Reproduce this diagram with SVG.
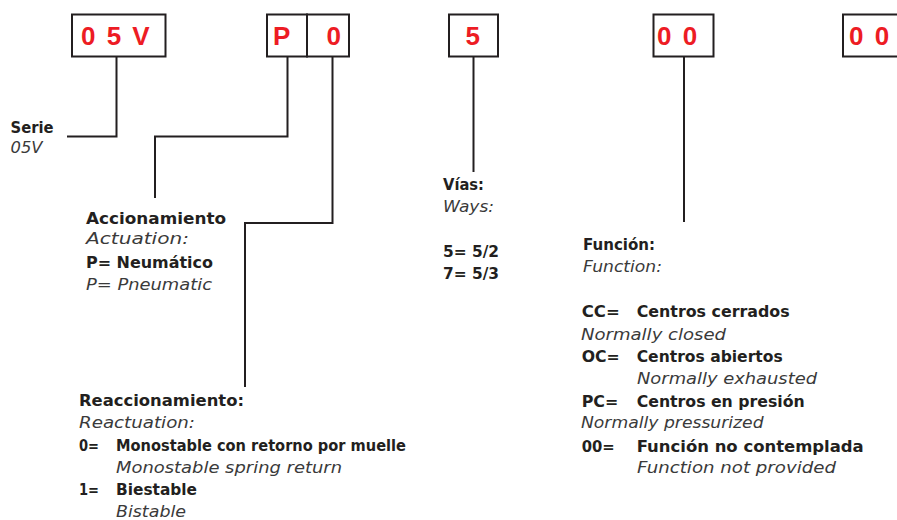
<svg xmlns="http://www.w3.org/2000/svg" width="897" height="520" viewBox="0 0 897 520">
<style>
.box{fill:#fff;stroke:#231f20;stroke-width:2}
.code{font-family:"Liberation Sans",Arial,sans-serif;font-weight:bold;font-size:26px;fill:#ed1c24;letter-spacing:2px}
.b{font-family:"DejaVu Sans","Liberation Sans",sans-serif;font-weight:bold;font-size:16px;fill:#231f20}
.i{font-family:"DejaVu Sans","Liberation Sans",sans-serif;font-style:italic;font-size:16px;fill:#3a3a3a}
.con{fill:none;stroke:#231f20;stroke-width:2}
</style>
<rect width="897" height="520" fill="#fff"/>
<g id="connectors">
<path class="con" d="M116.5 57 V136.5 H67"/>
<path class="con" d="M287.5 57 V136.5 H155 V198"/>
<path class="con" d="M332.5 57 V223 H245 V387"/>
<path class="con" d="M473.5 57 V172"/>
<path class="con" d="M684 57 V222"/>
</g>
<g id="box-serie">
<rect class="box" x="72" y="14.5" width="93.5" height="42"/>
<text class="code" x="81" y="45">0 5 V</text>
</g>
<g id="box-actuation">
<rect class="box" x="267" y="14.5" width="40" height="42"/>
<text class="code" x="273" y="45">P</text>
</g>
<g id="box-reactuation">
<rect class="box" x="307" y="14.5" width="42" height="42"/>
<text class="code" x="326.5" y="45">0</text>
</g>
<g id="box-ways">
<rect class="box" x="449" y="14.5" width="49" height="42"/>
<text class="code" x="465.5" y="45">5</text>
</g>
<g id="box-function">
<rect class="box" x="653.5" y="14.5" width="60" height="42"/>
<text class="code" x="657" y="45">0 0</text>
</g>
<g id="box-extra">
<rect class="box" x="843" y="14.5" width="70" height="42"/>
<text class="code" x="849" y="45">0 0</text>
</g>
<g id="label-serie">
<text class="b" x="10.5" y="133" textLength="43" lengthAdjust="spacingAndGlyphs">Serie</text>
<text class="i" x="10.5" y="153.3" textLength="32" lengthAdjust="spacingAndGlyphs">05V</text>
</g>
<g id="label-actuation">
<text class="b" x="86" y="224" textLength="140" lengthAdjust="spacingAndGlyphs">Accionamiento</text>
<text class="i" x="86" y="244" textLength="103" lengthAdjust="spacingAndGlyphs">Actuation:</text>
<text class="b" x="86" y="268" textLength="127" lengthAdjust="spacingAndGlyphs">P= Neumático</text>
<text class="i" x="86" y="290" textLength="126" lengthAdjust="spacingAndGlyphs">P= Pneumatic</text>
</g>
<g id="label-reactuation">
<text class="b" x="79" y="406" textLength="165" lengthAdjust="spacingAndGlyphs">Reaccionamiento:</text>
<text class="i" x="79" y="428" textLength="116" lengthAdjust="spacingAndGlyphs">Reactuation:</text>
<text class="b" x="79" y="451" textLength="20" lengthAdjust="spacingAndGlyphs">0=</text>
<text class="b" x="116" y="451" textLength="290" lengthAdjust="spacingAndGlyphs">Monostable con retorno por muelle</text>
<text class="i" x="116" y="472.5" textLength="226" lengthAdjust="spacingAndGlyphs">Monostable spring return</text>
<text class="b" x="79" y="495" textLength="20" lengthAdjust="spacingAndGlyphs">1=</text>
<text class="b" x="116" y="495" textLength="81" lengthAdjust="spacingAndGlyphs">Biestable</text>
<text class="i" x="116" y="516.5" textLength="70" lengthAdjust="spacingAndGlyphs">Bistable</text>
</g>
<g id="label-ways">
<text class="b" x="443" y="190" textLength="41" lengthAdjust="spacingAndGlyphs">Vías:</text>
<text class="i" x="443" y="211.7" textLength="51" lengthAdjust="spacingAndGlyphs">Ways:</text>
<text class="b" x="443" y="257" textLength="56" lengthAdjust="spacingAndGlyphs">5= 5/2</text>
<text class="b" x="443" y="279" textLength="56" lengthAdjust="spacingAndGlyphs">7= 5/3</text>
</g>
<g id="label-function">
<text class="b" x="583" y="250" textLength="72" lengthAdjust="spacingAndGlyphs">Función:</text>
<text class="i" x="583" y="271.7" textLength="79" lengthAdjust="spacingAndGlyphs">Function:</text>
<text class="b" x="581.7" y="316.5" textLength="38" lengthAdjust="spacingAndGlyphs">CC=</text>
<text class="b" x="636.7" y="316.5" textLength="153" lengthAdjust="spacingAndGlyphs">Centros cerrados</text>
<text class="i" x="581" y="340" textLength="145" lengthAdjust="spacingAndGlyphs">Normally closed</text>
<text class="b" x="581.7" y="361.7" textLength="38" lengthAdjust="spacingAndGlyphs">OC=</text>
<text class="b" x="636.7" y="361.7" textLength="146" lengthAdjust="spacingAndGlyphs">Centros abiertos</text>
<text class="i" x="637" y="384.3" textLength="180" lengthAdjust="spacingAndGlyphs">Normally exhausted</text>
<text class="b" x="581.7" y="406.7" textLength="36.6" lengthAdjust="spacingAndGlyphs">PC=</text>
<text class="b" x="636.7" y="406.7" textLength="168" lengthAdjust="spacingAndGlyphs">Centros en presión</text>
<text class="i" x="581" y="428.3" textLength="182.6" lengthAdjust="spacingAndGlyphs">Normally pressurized</text>
<text class="b" x="581.7" y="451.7" textLength="33" lengthAdjust="spacingAndGlyphs">00=</text>
<text class="b" x="636.7" y="451.7" textLength="227" lengthAdjust="spacingAndGlyphs">Función no contemplada</text>
<text class="i" x="637" y="473.3" textLength="199" lengthAdjust="spacingAndGlyphs">Function not provided</text>
</g>
</svg>
